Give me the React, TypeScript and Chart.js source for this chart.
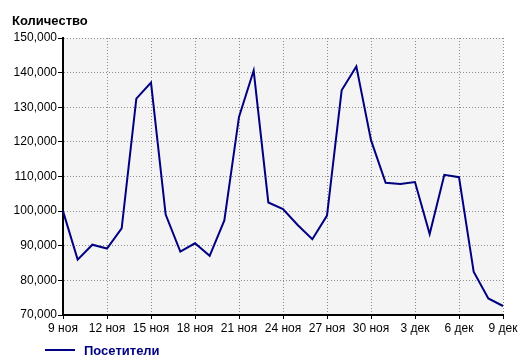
import React, { useEffect, useRef } from "react";
import { Chart, registerables } from "chart.js";

Chart.register(...registerables);

const categories = [
  "9 ноя", "10 ноя", "11 ноя", "12 ноя", "13 ноя", "14 ноя", "15 ноя", "16 ноя",
  "17 ноя", "18 ноя", "19 ноя", "20 ноя", "21 ноя", "22 ноя", "23 ноя", "24 ноя",
  "25 ноя", "26 ноя", "27 ноя", "28 ноя", "29 ноя", "30 ноя", "1 дек", "2 дек",
  "3 дек", "4 дек", "5 дек", "6 дек", "7 дек", "8 дек", "9 дек",
];

const visitors = [
  100000, 86000, 90300, 89200, 95000, 132500, 137100, 99000,
  88300, 90700, 87100, 97300, 127200, 140600, 102500, 100600,
  96000, 91900, 98700, 134900, 141800, 120500, 108200, 107850,
  108400, 93400, 110500, 109800, 82500, 74800, 72600,
];

const seriesLabel = "Посетители";
const yAxisTitle = "Количество";
const yTicks = [70000, 80000, 90000, 100000, 110000, 120000, 130000, 140000, 150000];
const labelEvery = 3;

const FONT = "'Liberation Sans', Arial, sans-serif";
const NAVY = "#000080";
const GRID = "#8c8c8c";

export default function App() {
  const ref = useRef<HTMLCanvasElement | null>(null);

  useEffect(() => {
    if (!ref.current) return;
    const decor = {
      id: "decor",
      beforeDraw(chart: any) {
        const { ctx, chartArea } = chart;
        ctx.save();
        ctx.fillStyle = "#ffffff";
        ctx.fillRect(0, 0, chart.width, chart.height);
        ctx.fillStyle = "#f4f4f4";
        ctx.fillRect(chartArea.left, chartArea.top, chartArea.right - chartArea.left, chartArea.bottom - chartArea.top);
        ctx.restore();
      },
      afterDraw(chart: any) {
        const { ctx } = chart;
        ctx.save();
        ctx.fillStyle = "#000";
        ctx.font = `bold 13px ${FONT}`;
        ctx.textBaseline = "alphabetic";
        ctx.textAlign = "left";
        ctx.fillText(yAxisTitle, 12, 25);
        // legend
        ctx.strokeStyle = NAVY;
        ctx.lineWidth = 2;
        ctx.beginPath();
        ctx.moveTo(45, 350);
        ctx.lineTo(75, 350);
        ctx.stroke();
        ctx.fillStyle = NAVY;
        ctx.font = `bold 13px ${FONT}`;
        ctx.textBaseline = "middle";
        ctx.fillText(chart.data.datasets[0].label, 84, 351);
        ctx.restore();
      },
    };

    const chart = new Chart(ref.current, {
      type: "line",
      data: {
        labels: categories,
        datasets: [
          {
            label: seriesLabel,
            data: visitors,
            borderColor: NAVY,
            backgroundColor: NAVY,
            borderWidth: 2,
            pointRadius: 0,
            tension: 0,
          },
        ],
      },
      options: {
        responsive: false,
        animation: false,
        layout: { padding: { left: 0, right: 25, top: 38, bottom: 0 } },
        plugins: {
          legend: { display: false },
          title: { display: false },
          tooltip: { enabled: false },
        },
        scales: {
          x: {
            type: "category",
            offset: false,
            afterFit: (s: any) => {
              s.height = 49;
            },
            ticks: {
              autoSkip: false,
              maxRotation: 0,
              minRotation: 0,
              padding: 2,
              color: "#000",
              font: { family: FONT, size: 12 },
              callback: (_v: any, i: number) => (i % labelEvery === 0 ? categories[i] : ""),
            },
            grid: {
              color: (c: any) => (c.index % labelEvery === 0 ? GRID : "rgba(0,0,0,0)"),
              tickColor: (c: any) => (c.index % labelEvery === 0 ? "#000" : "rgba(0,0,0,0)"),
              lineWidth: 1,
              tickLength: 4,
              tickWidth: 1,
              tickBorderDash: [],
            },
            border: { display: true, color: "#000", width: 2, dash: [1, 2] },
          },
          y: {
            type: "linear",
            min: 70000,
            max: 150000,
            afterFit: (s: any) => {
              s.width = 63;
            },
            afterBuildTicks: (s: any) => {
              s.ticks = yTicks.map((v) => ({ value: v }));
            },
            ticks: {
              padding: 1,
              color: "#000",
              font: { family: FONT, size: 12 },
              callback: (v: any) => Number(v).toLocaleString("en-US"),
            },
            grid: {
              color: GRID,
              tickColor: "#000",
              lineWidth: 1,
              tickLength: 5,
              tickWidth: 1,
              tickBorderDash: [],
            },
            border: { display: true, color: "#000", width: 2, dash: [1, 2] },
          },
        },
      },
      plugins: [decor],
    });
    return () => chart.destroy();
  }, []);

  return (
    <div style={{ position: "absolute", left: 0, top: 0, width: 528, height: 364 }}>
      <canvas ref={ref} width={528} height={364} />
    </div>
  );
}
